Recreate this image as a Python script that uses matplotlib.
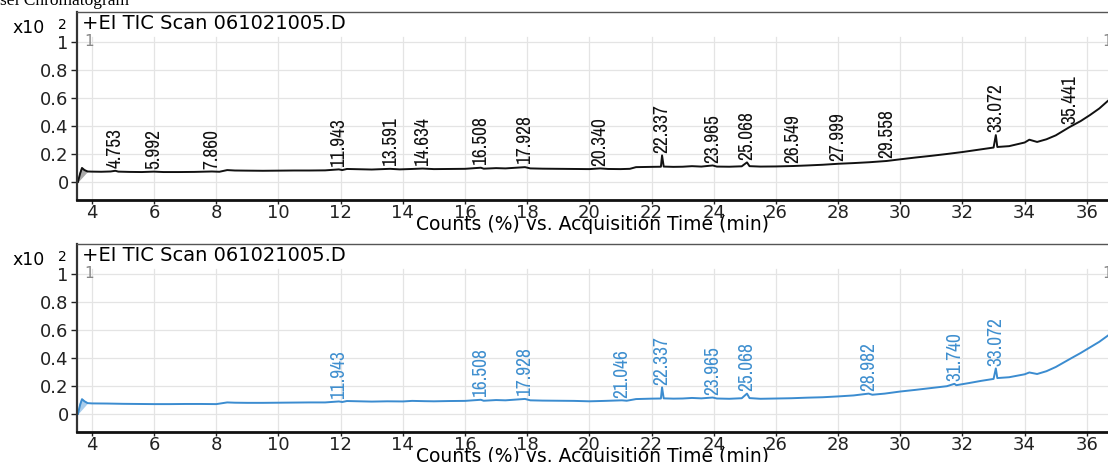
import numpy as np
import matplotlib
matplotlib.use("Agg")
import matplotlib.pyplot as plt
from matplotlib import font_manager

# retention times (min) and counts (x10^2)
top_rt = [3.55, 3.62, 3.68, 3.76, 3.86, 4.0, 4.3, 4.6, 4.753, 4.85, 5.2, 5.6, 5.992, 6.3, 6.8, 7.3,
	7.860, 8.1, 8.35, 8.6, 9.0, 9.5, 10.0, 10.5, 11.0, 11.5, 11.943, 12.05, 12.2, 12.6, 13.0,
	13.591, 13.9, 14.3, 14.634, 15.0, 15.5, 16.0, 16.508, 16.6, 17.0, 17.3, 17.928, 18.1, 18.5,
	19.0, 19.5, 20.0, 20.340, 20.6, 21.0, 21.3, 21.5, 22.0, 22.30, 22.337, 22.39, 22.7, 23.0,
	23.3, 23.6, 23.965, 24.1, 24.5, 24.9, 25.068, 25.15, 25.5, 26.0, 26.549, 27.0, 27.5, 27.999,
	28.5, 29.0, 29.558, 30.0, 30.5, 31.0, 31.5, 32.0, 32.5, 33.0, 33.072, 33.12, 33.5, 34.0,
	34.15, 34.4, 34.7, 35.0, 35.441, 35.8, 36.1, 36.4, 36.68]
top_counts = [0.0, 0.06, 0.10, 0.085, 0.075, 0.074, 0.073, 0.075, 0.080, 0.074, 0.072, 0.071, 0.074, 0.071, 0.071, 0.072,
	0.075, 0.073, 0.085, 0.082, 0.081, 0.080, 0.081, 0.082, 0.082, 0.083, 0.090, 0.085, 0.093, 0.091, 0.089,
	0.094, 0.090, 0.093, 0.096, 0.092, 0.093, 0.094, 0.102, 0.095, 0.099, 0.097, 0.106, 0.097, 0.095,
	0.094, 0.093, 0.092, 0.097, 0.093, 0.092, 0.094, 0.106, 0.108, 0.109, 0.190, 0.110, 0.108, 0.109,
	0.113, 0.110, 0.118, 0.110, 0.109, 0.112, 0.140, 0.113, 0.110, 0.111, 0.114, 0.118, 0.123, 0.130,
	0.135, 0.141, 0.150, 0.162, 0.175, 0.187, 0.200, 0.214, 0.230, 0.246, 0.335, 0.250, 0.256, 0.282,
	0.302, 0.286, 0.305, 0.333, 0.392, 0.435, 0.478, 0.525, 0.580]
top_peaks = ["4.753", "5.992", "7.860", "11.943", "13.591", "14.634", "16.508", "17.928", "20.340",
	"22.337", "23.965", "25.068", "26.549", "27.999", "29.558", "33.072", "35.441"]

bot_rt = [3.55, 3.62, 3.68, 3.76, 3.86, 4.0, 4.5, 5.0, 5.5, 6.0, 6.5, 7.0, 7.5, 8.0, 8.35, 8.6,
	9.0, 9.5, 10.0, 10.5, 11.0, 11.5, 11.943, 12.05, 12.2, 12.6, 13.0, 13.5, 14.0, 14.3, 14.7,
	15.0, 15.5, 16.0, 16.508, 16.6, 17.0, 17.3, 17.928, 18.1, 18.5, 19.0, 19.5, 20.0, 20.5,
	21.046, 21.2, 21.5, 22.0, 22.30, 22.337, 22.39, 22.7, 23.0, 23.3, 23.6, 23.965, 24.1, 24.5,
	24.9, 25.068, 25.15, 25.5, 26.0, 26.5, 27.0, 27.5, 28.0, 28.5, 28.982, 29.1, 29.5, 30.0,
	30.5, 31.0, 31.5, 31.740, 31.8, 32.2, 32.6, 33.0, 33.072, 33.12, 33.5, 34.0, 34.15, 34.4,
	34.7, 35.0, 35.5, 35.8, 36.1, 36.4, 36.68]
bot_counts = [0.0, 0.065, 0.105, 0.09, 0.077, 0.075, 0.074, 0.072, 0.071, 0.070, 0.070, 0.071, 0.071, 0.070, 0.082, 0.080,
	0.079, 0.079, 0.080, 0.081, 0.082, 0.082, 0.089, 0.085, 0.092, 0.090, 0.088, 0.090, 0.089, 0.093, 0.091,
	0.090, 0.092, 0.093, 0.101, 0.094, 0.099, 0.097, 0.107, 0.097, 0.095, 0.094, 0.093, 0.090, 0.093,
	0.097, 0.094, 0.106, 0.109, 0.110, 0.190, 0.111, 0.109, 0.110, 0.114, 0.111, 0.117, 0.110, 0.108,
	0.112, 0.145, 0.113, 0.108, 0.110, 0.112, 0.116, 0.119, 0.125, 0.132, 0.145, 0.137, 0.145, 0.160,
	0.172, 0.185, 0.198, 0.215, 0.205, 0.220, 0.236, 0.250, 0.325, 0.256, 0.262, 0.283, 0.296, 0.285,
	0.305, 0.335, 0.398, 0.435, 0.475, 0.515, 0.560]
bot_peaks = ["11.943", "16.508", "17.928", "21.046", "22.337", "23.965", "25.068", "28.982",
	"31.740", "33.072"]

x_ticks = [4, 6, 8, 10, 12, 14, 16, 18, 20, 22, 24, 26, 28, 30, 32, 34, 36]
y_ticks = [0, 0.2, 0.4, 0.6, 0.8, 1.0]
y_labels = ["0", "0.2", "0.4", "0.6", "0.8", "1"]
title = "+EI TIC Scan 061021005.D"
xlabel = "Counts (%) vs. Acquisition Time (min)"

XLIM = (3.52, 36.68)
YLIM = (-0.129, 1.214)


def narrow_font():
	# the peak labels look condensed; use a narrow face if the system has one
	fonts = font_manager.fontManager.ttflist
	for f in fonts:
		if ("Narrow" in f.name or "Condensed" in f.name) and f.style == "normal":
			return font_manager.FontProperties(fname=f.fname), 14
	for f in fonts:
		if "condensed" in str(f.stretch) and f.style == "normal" and f.weight in (400, "normal", "regular"):
			return font_manager.FontProperties(fname=f.fname), 14
	return font_manager.FontProperties(family="DejaVu Sans"), 10


LABEL_FONT, LABEL_SIZE = narrow_font()


def draw_panel(ax, rt, counts, peaks, color, fill, label_color):
	ax.set_xlim(*XLIM)
	ax.set_ylim(*YLIM)

	# grid: vertical lines stop just above the 1.0 line, like the instrument software
	top_frac = (1.036 - YLIM[0]) / (YLIM[1] - YLIM[0])
	for x in x_ticks:
		ax.axvline(x, ymin=0, ymax=top_frac, color="#e4e4e4", lw=0.9, zorder=0)
	for y in y_ticks:
		ax.axhline(y, color="#e4e4e4", lw=0.9, zorder=0)

	ax.fill(rt[:5], counts[:5], color=fill, zorder=1)
	ax.plot(rt, counts, color=color, lw=1.4, zorder=2)

	for p in peaks:
		x = float(p)
		y = np.interp(x, rt, counts)
		fp = LABEL_FONT.copy()
		fp.set_size(LABEL_SIZE)
		ax.annotate(p, (x, y), xytext=(0, 2), textcoords="offset points",
			rotation=90, ha="center", va="bottom", fontproperties=fp, color=label_color)

	ax.set_xticks(x_ticks)
	ax.set_yticks(y_ticks)
	ax.set_yticklabels(y_labels)
	ax.tick_params(axis="y", labelsize=13, direction="out", length=4, width=1,
		colors="#222222", pad=2)
	ax.tick_params(axis="x", labelsize=13, direction="out", length=3, width=1,
		colors="#222222", pad=0)
	ax.set_xlabel(xlabel, fontsize=13.5)
	ax.xaxis.set_label_coords(0.5, -0.082)

	ax.spines["right"].set_visible(False)
	ax.spines["top"].set_color("#555555")
	ax.spines["top"].set_linewidth(1.0)
	ax.spines["left"].set_color("#333333")
	ax.spines["left"].set_linewidth(1.6)
	ax.spines["bottom"].set_color("#111111")
	ax.spines["bottom"].set_linewidth(2.0)

	ax.text(0.005, 0.94, title, transform=ax.transAxes, fontsize=14, va="center", ha="left")
	ax.text(-0.063, 0.915, "x10", transform=ax.transAxes, fontsize=12.5, va="center", ha="left")
	ax.text(-0.0185, 0.93, "2", transform=ax.transAxes, fontsize=10, va="center", ha="left")
	ax.text(3.75, 1.0, "1", fontsize=11, color="#888888", va="center", ha="left")
	ax.text(36.5, 1.0, "1", fontsize=11, color="#888888", va="center", ha="left", clip_on=False)


def main():
	fig = plt.figure(figsize=(11.08, 4.62), dpi=100)
	fig.text(0.0, 1 - 5 / 462, "sel Chromatogram", family="Liberation Serif", fontsize=12.5,
		va="baseline", ha="left")

	ax1 = fig.add_axes([0.0695, 0.567, 0.9305, 0.407])
	draw_panel(ax1, top_rt, top_counts, top_peaks, "#111111", "#aaaaaa", "#111111")

	ax2 = fig.add_axes([0.0695, 0.065, 0.9305, 0.407])
	draw_panel(ax2, bot_rt, bot_counts, bot_peaks, "#3b8cd0", "#a9cdec", "#3f8fcf")

	fig.savefig("out.png", dpi=100)


if __name__ == "__main__":
	main()
